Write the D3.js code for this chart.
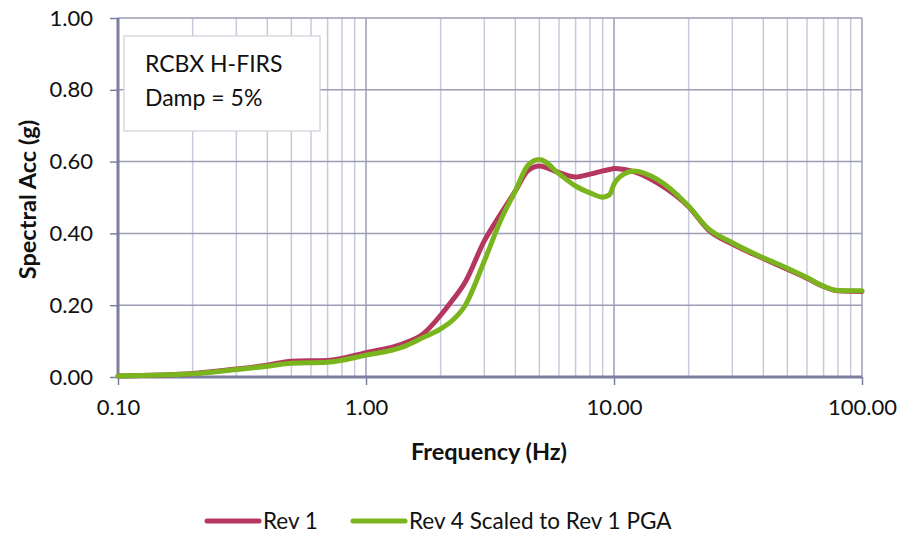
<!DOCTYPE html>
<html lang="en">
<head>
    <meta charset="UTF-8">
    <title>Spectral Acceleration</title>
    <script src="https://d3js.org/d3.v7.min.js"></script>
    <style>
        body { margin: 0; background: #fff; }
        text { font-family: Lato, "Open Sans", sans-serif; fill: #111; }
    </style>
</head>
<body>
    <div id="chart"></div>
    <script>
        // Frequencies (Hz)
        const freq = [0.1, 0.2, 0.3, 0.4, 0.5, 0.7, 1.0, 1.4, 1.7, 2.0, 2.25, 2.5, 3.0, 3.5, 4.0, 4.5, 5.0,
                      6.0, 7.0, 8.0, 9.0, 9.6, 10, 11, 12, 15, 20, 24, 30, 40, 50, 60, 70, 80, 100];
        const rev1 = [0.003, 0.010, 0.022, 0.033, 0.044, 0.046, 0.068, 0.092, 0.120, 0.172, 0.217, 0.262, 0.379,
                      0.455, 0.518, 0.575, 0.588, 0.569, 0.557, 0.565, 0.574, 0.578, 0.581, 0.578, 0.572,
                      0.540, 0.474, 0.410, 0.370, 0.330, 0.300, 0.275, 0.252, 0.240, 0.238];
        const rev4 = [0.003, 0.009, 0.021, 0.030, 0.038, 0.041, 0.061, 0.083, 0.110, 0.134, 0.160, 0.197, 0.323,
                      0.438, 0.518, 0.590, 0.606, 0.566, 0.532, 0.513, 0.501, 0.508, 0.537, 0.566, 0.574,
                      0.550, 0.476, 0.413, 0.374, 0.332, 0.303, 0.277, 0.253, 0.241, 0.240];
        const seriesNames = ["Rev 1", "Rev 4 Scaled to Rev 1 PGA"];
        const xTicks = [0.1, 1, 10, 100];
        const yTicks = [0, 0.2, 0.4, 0.6, 0.8, 1.0];
        const noteLines = ["RCBX H-FIRS", "Damp = 5%"];

        const W = 903, H = 538;
        const margin = { top: 18, right: 41, bottom: 161, left: 118 };
        const width = W - margin.left - margin.right;
        const height = H - margin.top - margin.bottom;

        const svg = d3.select("#chart").append("svg")
            .attr("width", W).attr("height", H);
        const g = svg.append("g")
            .attr("transform", `translate(${margin.left},${margin.top})`);

        const x = d3.scaleLog().domain([0.1, 100]).range([0, width]);
        const y = d3.scaleLinear().domain([0, 1]).range([height, 0]);

        // minor vertical grid (2..9 in each decade)
        const minor = [];
        [0.1, 1, 10].forEach(d => { for (let k = 2; k <= 9; k++) minor.push(d * k); });
        g.append("g").selectAll("line").data(minor).join("line")
            .attr("x1", d => x(d)).attr("x2", d => x(d))
            .attr("y1", 0).attr("y2", height)
            .attr("stroke", "#c9c9dc").attr("stroke-width", 1.5);

        // major grid
        g.append("g").selectAll("line").data(xTicks).join("line")
            .attr("x1", d => x(d)).attr("x2", d => x(d))
            .attr("y1", 0).attr("y2", height)
            .attr("stroke", "#9d9db8").attr("stroke-width", 1.5);
        g.append("g").selectAll("line").data(yTicks).join("line")
            .attr("x1", 0).attr("x2", width)
            .attr("y1", d => y(d)).attr("y2", d => y(d))
            .attr("stroke", "#9d9db8").attr("stroke-width", 1.5);

        // note box
        const note = g.append("g").attr("transform", "translate(6,18)");
        note.append("rect").attr("width", 196).attr("height", 95)
            .attr("fill", "#fff").attr("stroke", "#cfcfd8").attr("stroke-width", 1.2);
        note.selectAll("text").data(noteLines).join("text")
            .attr("x", 21).attr("y", (d, i) => 36 + i * 34)
            .attr("font-size", 23).text(d => d);

        // axes
        const yAxis = g.append("g")
            .call(d3.axisLeft(y).tickValues(yTicks).tickFormat(d3.format(".2f")).tickSize(8).tickPadding(17));
        const xAxis = g.append("g").attr("transform", `translate(0,${height})`)
            .call(d3.axisBottom(x).tickValues(xTicks).tickFormat(d3.format(".2f")).tickSize(8).tickPadding(14));
        [yAxis, xAxis].forEach(a => {
            a.select(".domain").remove();
            a.selectAll("line").attr("stroke", "#7d7da0").attr("stroke-width", 1.5);
            a.selectAll("text").attr("font-size", 22).attr("fill", "#111")
                .style("font-family", "Lato, 'Open Sans', sans-serif");
        });
        g.append("line").attr("x1", 0).attr("x2", 0).attr("y1", 0).attr("y2", height + 1)
            .attr("stroke", "#7d7da0").attr("stroke-width", 3);
        g.append("line").attr("x1", 0).attr("x2", width).attr("y1", height).attr("y2", height)
            .attr("stroke", "#7d7da0").attr("stroke-width", 3);

        // curves
        const line = d3.line().x(d => x(d[0])).y(d => y(d[1])).curve(d3.curveMonotoneX);
        const colors = ["#b5365f", "#7ab51d"];
        [rev1, rev4].forEach((s, i) => {
            g.append("path").datum(freq.map((f, j) => [f, s[j]]))
                .attr("fill", "none").attr("stroke", colors[i]).attr("stroke-width", 5)
                .attr("stroke-linecap", "round").attr("d", line);
        });

        // axis titles
        svg.append("text").attr("x", margin.left + width / 2 - 1).attr("y", 460)
            .attr("text-anchor", "middle").attr("font-size", 23.5).attr("font-weight", "bold")
            .text("Frequency (Hz)");
        svg.append("text").attr("transform", `translate(36,${margin.top + height / 2 + 2}) rotate(-90)`)
            .attr("text-anchor", "middle").attr("font-size", 23.5).attr("font-weight", "bold")
            .text("Spectral Acc (g)");

        // legend
        const legX = [207, 353];
        const leg = svg.append("g").selectAll("g").data(seriesNames).join("g")
            .attr("transform", (d, i) => `translate(${legX[i]},521)`);
        leg.append("line").attr("x1", 0).attr("x2", 52).attr("y1", 0).attr("y2", 0)
            .attr("stroke", (d, i) => colors[i]).attr("stroke-width", 5).attr("stroke-linecap", "round");
        leg.append("text").attr("x", 56).attr("y", 8).attr("font-size", 22.5).text(d => d);
    </script>
</body>
</html>
